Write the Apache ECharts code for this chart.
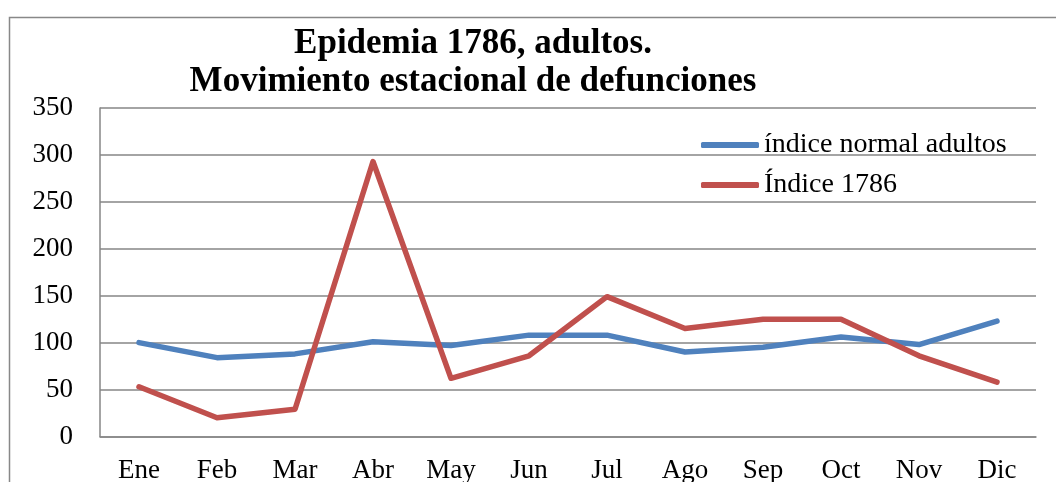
<!DOCTYPE html>
<html>
<head>
<meta charset="utf-8">
<script src="https://cdn.jsdelivr.net/npm/echarts@6/dist/echarts.min.js"></script>
<style>html,body{margin:0;padding:0;background:#fff}#c{width:1056px;height:482px}</style>
</head>
<body>
<div id="c"></div>
<script>
const categories = ['Ene','Feb','Mar','Abr','May','Jun','Jul','Ago','Sep','Oct','Nov','Dic'];
const normalAdultos = [100, 84, 88, 101, 97, 108, 108, 90, 95, 106, 98, 123];
const indice1786 = [53, 20, 29, 293, 62, 86, 149, 115, 125, 125, 86, 58];
const seriesNames = ['índice normal adultos', 'Índice 1786'];
const titleLines = ['Epidemia 1786, adultos.', 'Movimiento estacional de defunciones'];

const FONT = '"Liberation Serif", "DejaVu Serif", serif';
const chart = echarts.init(document.getElementById('c'));
chart.setOption({
  animation: false,
  backgroundColor: '#fff',
  graphic: [{
    type: 'rect', left: 7, top: 15, z: -10,
    shape: { width: 1200, height: 600 },
    style: { fill: 'none', stroke: '#888', lineWidth: 1.5 }
  }],
  title: {
    text: titleLines.join('\n'),
    left: 468, top: 20, textAlign: 'center',
    textStyle: { fontFamily: FONT, fontWeight: 'bold', fontSize: 35, lineHeight: 38, color: '#000' }
  },
  legend: {
    orient: 'vertical', left: 696, top: 126,
    itemWidth: 58, itemHeight: 6, itemGap: 12,
    icon: 'roundRect',
    textStyle: { fontFamily: FONT, fontSize: 28, lineHeight: 28, color: '#000' },
    data: seriesNames
  },
  grid: { left: 100, right: 20, top: 108, bottom: 45.5, containLabel: false, outerBoundsMode: 'none' },
  xAxis: {
    type: 'category', data: categories, boundaryGap: true,
    axisLine: { lineStyle: { color: '#868686', width: 1.5 } },
    axisTick: { show: false },
    axisLabel: { fontFamily: FONT, fontSize: 27, color: '#000', margin: 21 }
  },
  yAxis: {
    type: 'value', min: 0, max: 350, interval: 50,
    axisLine: { show: true, lineStyle: { color: '#868686', width: 1.5 } },
    axisTick: { show: false },
    splitLine: { lineStyle: { color: '#868686', width: 1.5 } },
    axisLabel: { fontFamily: FONT, fontSize: 27, color: '#000', margin: 27 }
  },
  series: [
    { name: seriesNames[0], type: 'line', data: normalAdultos, showSymbol: false, symbol: 'none',
      lineStyle: { color: '#4F81BD', width: 5.5, cap: 'round', join: 'round' }, itemStyle: { color: '#4F81BD' } },
    { name: seriesNames[1], type: 'line', data: indice1786, showSymbol: false, symbol: 'none',
      lineStyle: { color: '#C0504D', width: 5.5, cap: 'round', join: 'round' }, itemStyle: { color: '#C0504D' } }
  ]
});
</script>
</body>
</html>
